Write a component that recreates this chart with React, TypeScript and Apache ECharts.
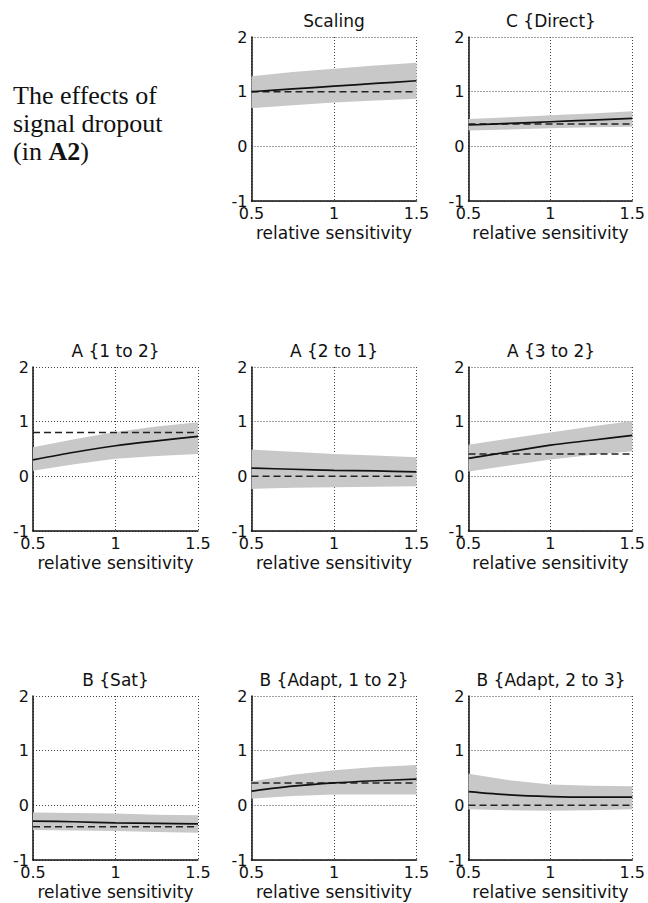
import React, { useEffect, useRef } from "react";
import * as echarts from "echarts";

// ---- data ----
const xs = [0.5, 0.75, 1, 1.25, 1.5];
const xTicks = [0.5, 1, 1.5];
const yTicks = [-1, 0, 1, 2];

const titles = [
  "Scaling",
  "C {Direct}",
  "A {1 to 2}",
  "A {2 to 1}",
  "A {3 to 2}",
  "B {Sat}",
  "B {Adapt, 1 to 2}",
  "B {Adapt, 2 to 3}",
];

const solidScaling = [1.0, 1.05, 1.1, 1.15, 1.2];
const upperScaling = [1.28, 1.36, 1.42, 1.48, 1.53];
const lowerScaling = [0.7, 0.75, 0.8, 0.84, 0.87];
const dashedScaling = 1.0;

const solidCDirect = [0.39, 0.42, 0.45, 0.48, 0.51];
const upperCDirect = [0.5, 0.53, 0.57, 0.6, 0.64];
const lowerCDirect = [0.29, 0.31, 0.33, 0.35, 0.36];
const dashedCDirect = 0.41;

const solidA12 = [0.3, 0.44, 0.56, 0.65, 0.73];
const upperA12 = [0.53, 0.68, 0.81, 0.91, 0.99];
const lowerA12 = [0.1, 0.22, 0.32, 0.37, 0.41];
const dashedA12 = 0.8;

const solidA21 = [0.15, 0.13, 0.11, 0.1, 0.08];
const upperA21 = [0.49, 0.45, 0.41, 0.38, 0.35];
const lowerA21 = [-0.23, -0.21, -0.2, -0.19, -0.18];
const dashedA21 = 0.0;

const solidA32 = [0.33, 0.45, 0.57, 0.66, 0.75];
const upperA32 = [0.58, 0.69, 0.8, 0.91, 1.01];
const lowerA32 = [0.09, 0.2, 0.31, 0.39, 0.46];
const dashedA32 = 0.41;

const solidBSat = [-0.29, -0.3, -0.32, -0.33, -0.34];
const upperBSat = [-0.13, -0.14, -0.15, -0.17, -0.18];
const lowerBSat = [-0.45, -0.46, -0.47, -0.49, -0.5];
const dashedBSat = -0.39;

const solidB12 = [0.26, 0.35, 0.41, 0.45, 0.48];
const upperB12 = [0.44, 0.56, 0.64, 0.7, 0.74];
const lowerB12 = [0.12, 0.17, 0.2, 0.2, 0.2];
const dashedB12 = 0.41;

const solidB23 = [0.25, 0.19, 0.16, 0.15, 0.15];
const upperB23 = [0.58, 0.46, 0.38, 0.36, 0.35];
const lowerB23 = [-0.07, -0.09, -0.1, -0.09, -0.07];
const dashedB23 = 0.0;

const solids = [solidScaling, solidCDirect, solidA12, solidA21, solidA32, solidBSat, solidB12, solidB23];
const uppers = [upperScaling, upperCDirect, upperA12, upperA21, upperA32, upperBSat, upperB12, upperB23];
const lowers = [lowerScaling, lowerCDirect, lowerA12, lowerA21, lowerA32, lowerBSat, lowerB12, lowerB23];
const dashed = [dashedScaling, dashedCDirect, dashedA12, dashedA21, dashedA32, dashedBSat, dashedB12, dashedB23];

const introLines = ["The effects of", "signal dropout", "(in {b|A2})"];
const xAxisName = "relative sensitivity";

// ---- layout ----
const colLeft = [33, 251.5, 468.5];
const rowTop = [37, 367, 696];
const plotW = 165;
const plotH = 164;
const cells = [
  [0, 1], [0, 2],
  [1, 0], [1, 1], [1, 2],
  [2, 0], [2, 1], [2, 2],
];

const SANS = "DejaVu Sans";

export default function App() {
  const ref = useRef<HTMLDivElement>(null);
  useEffect(() => {
    if (!ref.current) return;
    const chart = echarts.init(ref.current, undefined, { renderer: "svg" });
    const grids: any[] = [];
    const xAxes: any[] = [];
    const yAxes: any[] = [];
    const series: any[] = [];
    const graphics: any[] = [];

    cells.forEach(([r, c], i) => {
      const left = colLeft[c];
      const top = rowTop[r];
      grids.push({ left, top, width: plotW, height: plotH, containLabel: false });
      xAxes.push({
        type: "value",
        gridIndex: i,
        min: 0.5,
        max: 1.5,
        interval: 0.5,
        name: xAxisName,
        nameLocation: "middle",
        nameGap: 23,
        nameTextStyle: { fontSize: 17, fontFamily: SANS, color: "#111" },
        axisLine: { show: true, onZero: false, lineStyle: { color: "#111", width: 1.5 } },
        axisTick: { show: false },
        axisLabel: {
          fontSize: 16,
          fontFamily: SANS,
          color: "#111",
          margin: 4,
          showMinLabel: true,
          showMaxLabel: true,
          formatter: (v: number) => (xTicks.includes(v) ? String(v) : ""),
        },
        splitLine: { show: true, lineStyle: { color: "#444", width: 1, type: [1, 2] } },
      });
      yAxes.push({
        type: "value",
        gridIndex: i,
        min: yTicks[0],
        max: yTicks[yTicks.length - 1],
        interval: 1,
        axisLine: { show: true, onZero: false, lineStyle: { color: "#111", width: 1.5 } },
        axisTick: { show: false },
        axisLabel: {
          fontSize: 16,
          fontFamily: SANS,
          color: "#111",
          margin: 4,
          showMinLabel: true,
          showMaxLabel: true,
        },
        splitLine: { show: true, lineStyle: { color: "#444", width: 1, type: [1, 2] } },
      });
      const lo = lowers[i];
      const up = uppers[i];
      series.push({
        type: "custom",
        xAxisIndex: i,
        yAxisIndex: i,
        silent: true,
        clip: false,
        data: xs.map((x, k) => [x, lo[k], up[k]]),
        encode: { x: 0, y: [1, 2] },
        z: 1,
        renderItem: (params: any, api: any) => {
          if (params.dataIndex !== 0) return null;
          const pts: number[][] = [];
          xs.forEach((x, k) => pts.push(api.coord([x, up[k]])));
          for (let k = xs.length - 1; k >= 0; k--) pts.push(api.coord([xs[k], lo[k]]));
          return {
            type: "polygon",
            shape: { points: pts },
            style: { fill: "#c8c8c8", stroke: "none" },
          };
        },
      });
      series.push({
        type: "line",
        xAxisIndex: i,
        yAxisIndex: i,
        symbol: "none",
        silent: true,
        lineStyle: { color: "#222", width: 1.5, type: [7, 4] },
        data: [
          [0.5, dashed[i]],
          [1.5, dashed[i]],
        ],
        z: 2,
      });
      series.push({
        type: "line",
        xAxisIndex: i,
        yAxisIndex: i,
        symbol: "none",
        silent: true,
        smooth: 0.3,
        lineStyle: { color: "#111", width: 1.7 },
        data: xs.map((x, k) => [x, solids[i][k]]),
        z: 3,
      });
      graphics.push({
        type: "text",
        x: left + plotW / 2,
        y: top - 16,
        style: {
          text: titles[i],
          fontSize: 17,
          fontFamily: SANS,
          fill: "#111",
          align: "center",
          verticalAlign: "middle",
          textAlign: "center",
          textVerticalAlign: "middle",
        },
      });
    });

    const introY = [95, 123, 151];
    introLines.forEach((t, k) => {
      graphics.push({
        type: "text",
        x: 13,
        y: introY[k],
        style: {
          text: t,
          fontSize: 26,
          fontFamily: "Liberation Serif",
          fill: "#111",
          align: "left",
          verticalAlign: "middle",
          textAlign: "left",
          textVerticalAlign: "middle",
          rich: {
            b: { fontSize: 26, fontFamily: "Liberation Serif", fontWeight: "bold", fill: "#111" },
          },
        },
      });
    });

    chart.setOption({
      animation: false,
      backgroundColor: "#fff",
      grid: grids,
      xAxis: xAxes,
      yAxis: yAxes,
      series,
      graphic: graphics,
    });
    return () => chart.dispose();
  }, []);
  return (
    <div
      ref={ref}
      style={{ position: "absolute", left: 0, top: 0, width: 648, height: 903, background: "#fff" }}
    />
  );
}
